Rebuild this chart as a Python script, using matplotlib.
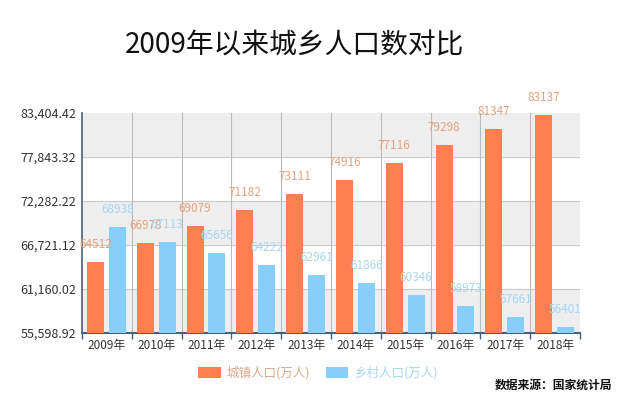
import numpy as np
import matplotlib.pyplot as plt
from matplotlib.patches import Patch

plt.rcParams['font.family'] = ['Noto Sans CJK SC', 'DejaVu Sans']

# 数据
years = ['2009年', '2010年', '2011年', '2012年', '2013年',
         '2014年', '2015年', '2016年', '2017年', '2018年']
urban = [64512, 66978, 69079, 71182, 73111, 74916, 77116, 79298, 81347, 83137]
rural = [68938, 67113, 65656, 64222, 62961, 61866, 60346, 58973, 57661, 56401]
yticks = [55598.92, 61160.02, 66721.12, 72282.22, 77843.32, 83404.42]

orange = '#FF7F50'
blue = '#87CEFA'

fig = plt.figure(figsize=(6.4, 4.07), dpi=100)
ax = fig.add_axes([82/640, 1 - 333/407, (580-82)/640, (333-113)/407])

x = np.arange(len(years))
w = 0.34
ax.bar(x - 0.23, urban, w, color=orange, zorder=3)
ax.bar(x + 0.21, rural, w, color=blue, zorder=3)

for i in range(len(years)):
    ax.text(x[i] - 0.23, urban[i] + 1400, str(urban[i]), ha='center', va='bottom',
            color='#E8A27E', fontsize=8.5, zorder=4)
    ax.text(x[i] + 0.21, rural[i] + 1400, str(rural[i]), ha='center', va='bottom',
            color='#A9D6F2', fontsize=8.5, zorder=4, clip_on=False)

ax.set_xlim(-0.5, len(years) - 0.5)
ax.set_ylim(yticks[0], yticks[-1])
ax.set_yticks(yticks)
ax.set_yticklabels(['{:,.2f}'.format(v) for v in yticks], fontsize=9, color='#333333')

# 背景色带
for k in range(len(yticks) - 1):
    if k % 2 == 0:
        ax.axhspan(yticks[k], yticks[k+1], color='#EEEEEE', zorder=0)
for v in yticks[1:-1]:
    ax.axhline(v, color='#CCCCCC', lw=0.8, zorder=1)
for b in np.arange(0.5, len(years) - 1, 1):
    ax.axvline(b, color='#BBBBBB', lw=0.8, zorder=1)

ax.set_xticks(x)
ax.set_xticklabels(years, fontsize=8.5, color='#333333')
ax.set_xticks(np.arange(-0.5, len(years), 1), minor=True)
ax.tick_params(axis='x', which='major', length=0, pad=4)
ax.tick_params(axis='x', which='minor', length=4, color='#48607A', width=1)
ax.tick_params(axis='y', length=0, pad=4)

for s in ['top', 'right']:
    ax.spines[s].set_visible(False)
ax.spines['left'].set_color('#48607A')
ax.spines['bottom'].set_color('#48607A')
ax.spines['left'].set_linewidth(1.2)
ax.spines['bottom'].set_linewidth(1.5)

fig.text(0.46, 1 - 45/407, '2009年以来城乡人口数对比', ha='center', va='center',
         fontsize=20, color='#111111')

# 图例
handles = [Patch(facecolor=orange, edgecolor='none'), Patch(facecolor=blue, edgecolor='none')]
leg = fig.legend(handles, ['城镇人口(万人)', '乡村人口(万人)'], loc='center',
                 bbox_to_anchor=(318/640, 1 - 373/407), ncol=2, frameon=False,
                 fontsize=9, handlelength=1.8, handleheight=1.0, columnspacing=1.2,
                 handletextpad=0.5)
leg.get_texts()[0].set_color('#D9A98C')
leg.get_texts()[1].set_color('#A9D6F2')

fig.text(612/640, 1 - 385/407, '数据来源：国家统计局', ha='right', va='center',
         fontsize=8.5, color='#111111', fontweight='bold')

fig.savefig('out.png', dpi=100, facecolor='white')
